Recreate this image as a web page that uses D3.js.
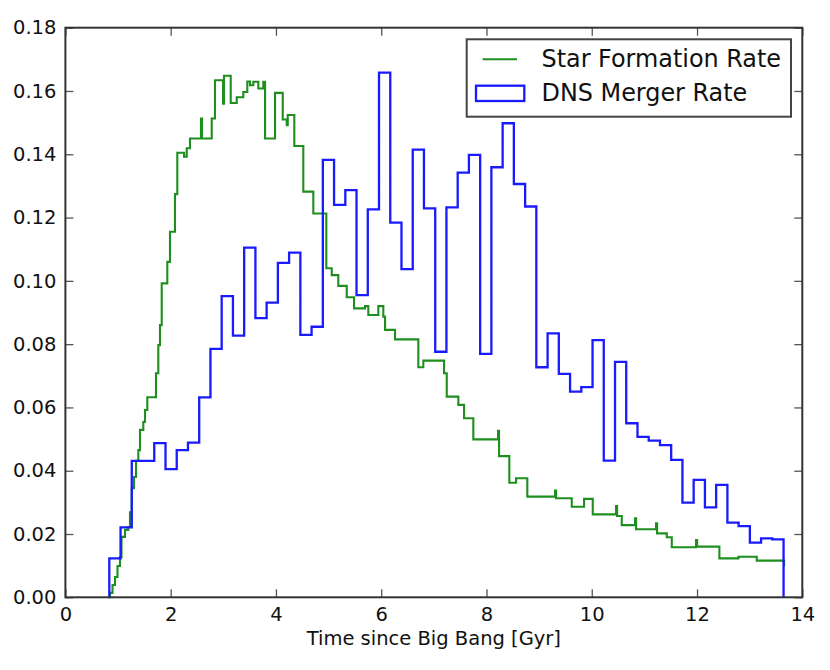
<!DOCTYPE html>
<html>
<head>
<meta charset="utf-8">
<script src="https://cdn.jsdelivr.net/npm/d3@7"></script>
<style>
  html, body { margin: 0; padding: 0; background: #fff; }
  svg text { font-family: "DejaVu Sans", sans-serif; fill: #111; }
</style>
</head>
<body>
<svg id="chart" width="830" height="670"></svg>
<script>
// ---- data ----
const xTicks = [0, 2, 4, 6, 8, 10, 12, 14];
const yTicks = [0, 0.02, 0.04, 0.06, 0.08, 0.10, 0.12, 0.14, 0.16, 0.18];

// Star formation rate (step line, value holds from each time until the next)
const sfrTime = [0.815, 0.848, 0.895, 0.942, 0.990, 1.037, 1.066, 1.132, 1.195, 1.227,
  1.260, 1.303, 1.342, 1.385, 1.417, 1.480, 1.512, 1.556, 1.721, 1.765,
  1.797, 1.830, 1.936, 1.987, 2.082, 2.126, 2.254, 2.305, 2.367, 2.576,
  2.595, 2.780, 2.842, 2.995, 3.013, 3.141, 3.255, 3.380, 3.456, 3.507,
  3.570, 3.665, 3.760, 3.793, 3.983, 4.129, 4.205, 4.224, 4.349, 4.520,
  4.710, 4.957, 5.060, 5.185, 5.345, 5.484, 5.693, 5.755, 5.945, 6.040,
  6.073, 6.263, 6.705, 6.800, 7.194, 7.245, 7.465, 7.574, 7.750, 8.220,
  8.239, 8.434, 8.562, 8.776, 9.303, 9.322, 9.620, 9.854, 10.019, 10.462,
  10.481, 10.570, 10.823, 10.842, 11.222, 11.241, 11.425, 11.520, 11.982, 12.001,
  12.425, 12.786, 13.135, 13.654];
const sfrRate = [0.0000, 0.0014, 0.0039, 0.0064, 0.0099, 0.0127, 0.0191, 0.0213, 0.0222, 0.0269,
  0.0345, 0.0380, 0.0431, 0.0465, 0.0529, 0.0554, 0.0592, 0.0632, 0.0708, 0.0797,
  0.0860, 0.0992, 0.1060, 0.1155, 0.1274, 0.1405, 0.1392, 0.1419, 0.1450, 0.1513,
  0.1450, 0.1513, 0.1634, 0.1560, 0.1648, 0.1562, 0.1580, 0.1597, 0.1630, 0.1618,
  0.1629, 0.1608, 0.1629, 0.1450, 0.1594, 0.1510, 0.1492, 0.1524, 0.1426, 0.1282,
  0.1213, 0.1040, 0.1018, 0.0984, 0.0948, 0.0913, 0.0920, 0.0892, 0.0920, 0.0887,
  0.0845, 0.0815, 0.0727, 0.0748, 0.0708, 0.0634, 0.0608, 0.0566, 0.0499, 0.0526,
  0.0446, 0.0362, 0.0376, 0.0318, 0.0337, 0.0313, 0.0286, 0.0311, 0.0262, 0.0288,
  0.0257, 0.0228, 0.0250, 0.0215, 0.0234, 0.0202, 0.0190, 0.0158, 0.0181, 0.0160,
  0.0123, 0.0128, 0.0116, 0.0097];

// DNS merger rate histogram: bin edges and bin values
const dnsEdges = [0.834, 1.048, 1.261, 1.475, 1.688, 1.902, 2.115, 2.329, 2.542, 2.756,
  2.969, 3.183, 3.396, 3.610, 3.823, 4.037, 4.250, 4.464, 4.677, 4.891,
  5.104, 5.318, 5.531, 5.745, 5.958, 6.172, 6.385, 6.599, 6.812, 7.026,
  7.239, 7.453, 7.666, 7.880, 8.093, 8.307, 8.520, 8.734, 8.947, 9.161,
  9.374, 9.588, 9.801, 10.015, 10.228, 10.442, 10.655, 10.869, 11.082, 11.296,
  11.509, 11.723, 11.936, 12.150, 12.363, 12.577, 12.790, 13.004, 13.217, 13.431,
  13.644];
const dnsRate = [0.0123, 0.0221, 0.0431, 0.0431, 0.0487, 0.0405, 0.0465, 0.0489, 0.0632, 0.0785,
  0.0952, 0.0827, 0.1105, 0.0882, 0.0931, 0.1057, 0.1089, 0.0829, 0.0855, 0.1382,
  0.1240, 0.1287, 0.0955, 0.1226, 0.1658, 0.1184, 0.1037, 0.1415, 0.1229, 0.0776,
  0.1232, 0.1342, 0.1398, 0.0769, 0.1359, 0.1498, 0.1306, 0.1235, 0.0727, 0.0834,
  0.0706, 0.0650, 0.0664, 0.0813, 0.0432, 0.0744, 0.0550, 0.0507, 0.0495, 0.0481,
  0.0434, 0.0299, 0.0371, 0.0284, 0.0355, 0.0236, 0.0225, 0.0173, 0.0186, 0.0183];

const seriesNames = ["Star Formation Rate", "DNS Merger Rate"];
const xLabel = "Time since Big Bang [Gyr]";

// ---- layout ----
const L = 65.4, R = 802.3, T = 27.7, B = 597.3;
const greenColor = "#1e8f1e";
const blueColor = "#1a1aff";

const svg = d3.select("#chart");
const x = d3.scaleLinear().domain([0, 14]).range([L, R]);
const y = d3.scaleLinear().domain([0, 0.18]).range([B, T]);

// series
const sfrPts = sfrTime.map((t, i) => ({ x: t, y: sfrRate[i] }));
const dnsPts = [{ x: dnsEdges[0], y: 0 }]
  .concat(dnsRate.map((v, i) => ({ x: dnsEdges[i], y: v })))
  .concat([{ x: dnsEdges[dnsEdges.length - 1], y: 0 }]);

const stepLine = d3.line().x(d => x(d.x)).y(d => y(d.y)).curve(d3.curveStepAfter);

svg.append("path").datum(sfrPts)
  .attr("d", stepLine).attr("fill", "none")
  .attr("stroke", greenColor).attr("stroke-width", 2.1);

svg.append("path").datum(dnsPts)
  .attr("d", stepLine).attr("fill", "none")
  .attr("stroke", blueColor).attr("stroke-width", 2.3)
  .attr("stroke-linejoin", "miter");

// axes (inward ticks on all four sides)
const fs = 19.5;
const gx = svg.append("g").attr("transform", `translate(0,${B})`)
  .call(d3.axisBottom(x).tickValues(xTicks).tickFormat(d3.format("d"))
    .tickSizeInner(-8).tickSizeOuter(0).tickPadding(10));
const gy = svg.append("g").attr("transform", `translate(${L},0)`)
  .call(d3.axisLeft(y).tickValues(yTicks).tickFormat(d3.format(".2f"))
    .tickSizeInner(-8).tickSizeOuter(0).tickPadding(9));
const gt = svg.append("g").attr("transform", `translate(0,${T})`)
  .call(d3.axisTop(x).tickValues(xTicks).tickFormat("")
    .tickSizeInner(-8).tickSizeOuter(0));
const gr = svg.append("g").attr("transform", `translate(${R},0)`)
  .call(d3.axisRight(y).tickValues(yTicks).tickFormat("")
    .tickSizeInner(-8).tickSizeOuter(0));

[gx, gy, gt, gr].forEach(g => {
  g.select(".domain").remove();
  g.selectAll(".tick line").attr("stroke", "#555").attr("stroke-width", 1.3);
  g.selectAll(".tick text").style("font-size", fs + "px").attr("fill", "#111");
});

// frame
svg.append("rect").attr("x", L).attr("y", T)
  .attr("width", R - L).attr("height", B - T)
  .attr("fill", "none").attr("stroke", "#333").attr("stroke-width", 2);

// x label
svg.append("text").attr("x", (L + R) / 2).attr("y", 645)
  .attr("text-anchor", "middle").style("font-size", fs + "px").text(xLabel);

// legend
const lg = svg.append("g");
lg.append("rect").attr("x", 466.7).attr("y", 39.3).attr("width", 324.3).attr("height", 77.4)
  .attr("fill", "#fff").attr("stroke", "#444").attr("stroke-width", 2);
lg.append("line").attr("x1", 482.7).attr("x2", 517).attr("y1", 59.3).attr("y2", 59.3)
  .attr("stroke", greenColor).attr("stroke-width", 2.1);
lg.append("rect").attr("x", 476).attr("y", 85.7).attr("width", 48.3).attr("height", 15.3)
  .attr("fill", "none").attr("stroke", blueColor).attr("stroke-width", 2.3);
lg.append("text").attr("x", 541.5).attr("y", 66.7).style("font-size", "23.9px").text(seriesNames[0]);
lg.append("text").attr("x", 541.5).attr("y", 101).style("font-size", "23.9px").text(seriesNames[1]);
</script>
</body>
</html>
